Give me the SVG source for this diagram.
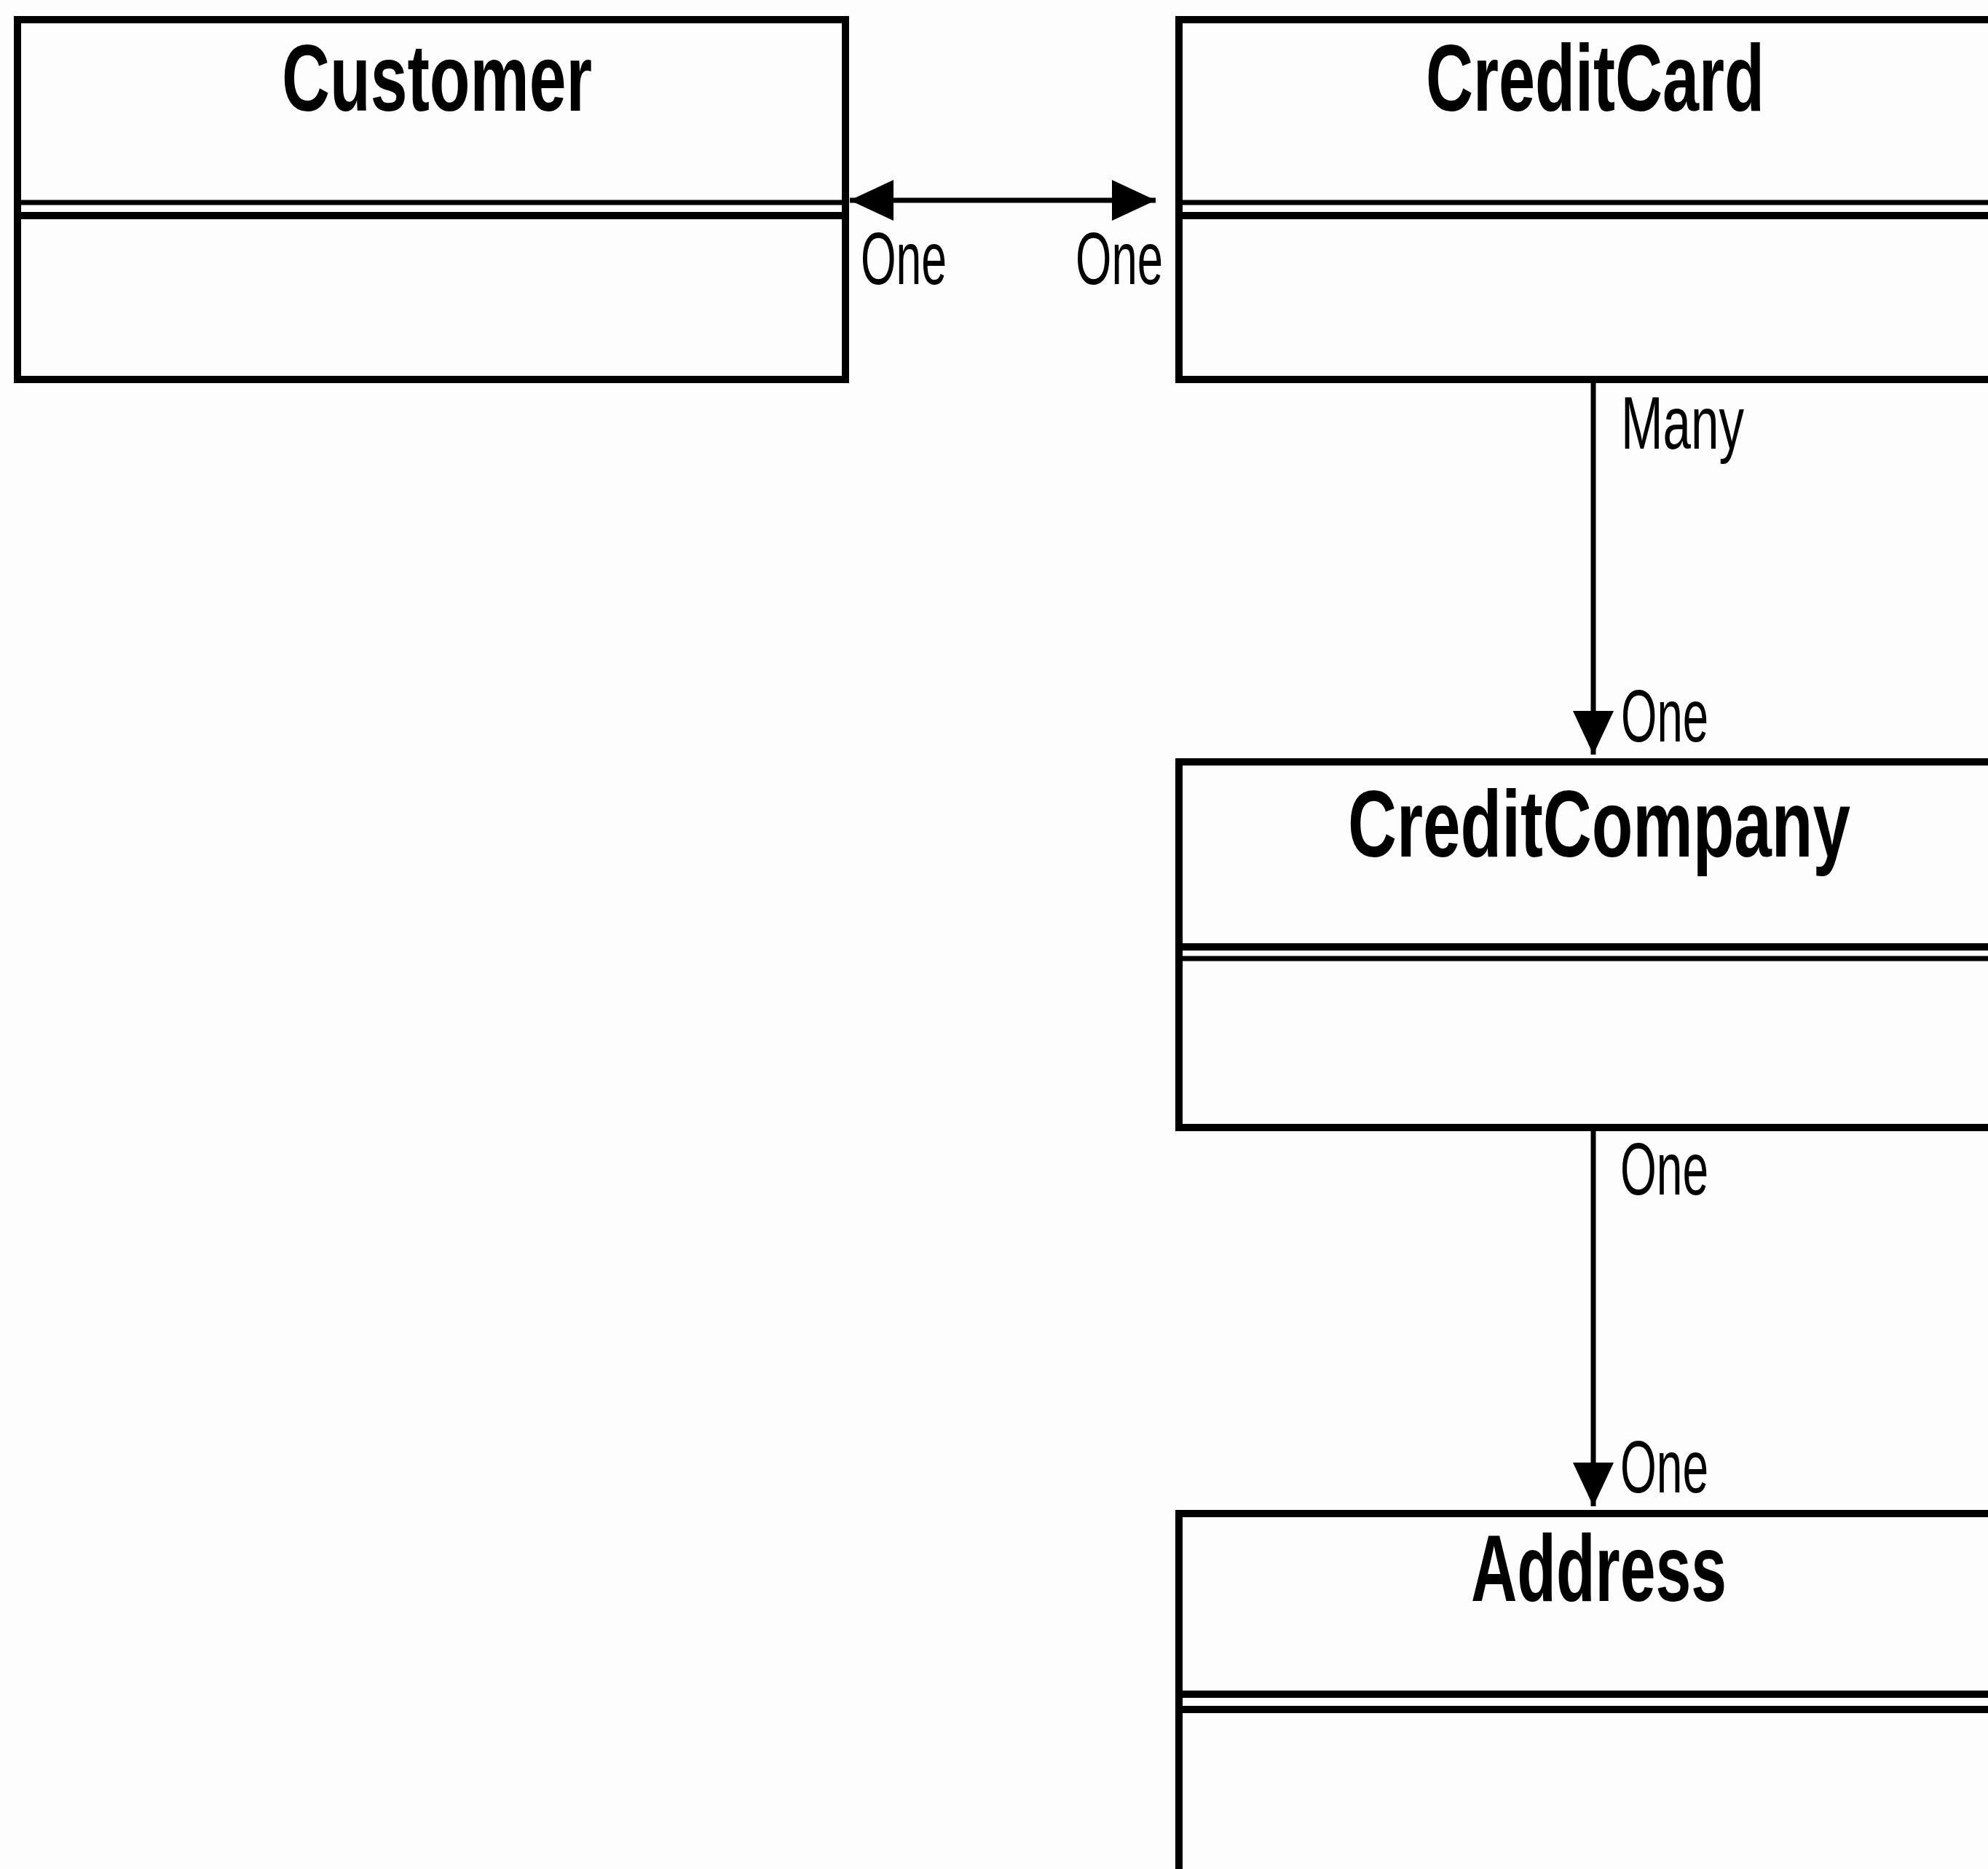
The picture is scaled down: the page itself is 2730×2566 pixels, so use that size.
<svg xmlns="http://www.w3.org/2000/svg" width="2730" height="2566" viewBox="0 0 2730 2566">
  <style>
    .box { fill: #fdfdfd; stroke: #000; stroke-width: 10; }
    .div-thin { stroke: #000; stroke-width: 7; }
    .div-thick { stroke: #000; stroke-width: 10; }
    .title { font-family: "Liberation Sans", Arial, sans-serif; font-weight: bold; font-size: 130px; fill: #000; }
    .label { font-family: "Liberation Sans", Arial, sans-serif; font-size: 102px; fill: #000; }
    .conn { stroke: #000; stroke-width: 7; fill: none; }
  </style>
  <defs>
    <marker id="arrow" markerUnits="userSpaceOnUse" markerWidth="62" markerHeight="56" refX="60" refY="28" orient="auto-start-reverse">
      <path d="M0,0 L60,28 L0,56 Z" fill="#000"/>
    </marker>
  </defs>

  <rect x="0" y="0" width="2730" height="2566" fill="#fdfdfd"/>

  <g id="customer">
    <rect class="box" x="24" y="27" width="1137" height="494"/>
    <line class="div-thin" x1="24" y1="278" x2="1161" y2="278"/>
    <line class="div-thick" x1="24" y1="296" x2="1161" y2="296"/>
    <text class="title" x="387" y="152" textLength="426" lengthAdjust="spacingAndGlyphs">Customer</text>
  </g>

  <g id="creditcard">
    <rect class="box" x="1619" y="27" width="1137" height="494"/>
    <line class="div-thin" x1="1619" y1="278" x2="2756" y2="278"/>
    <line class="div-thick" x1="1619" y1="296" x2="2756" y2="296"/>
    <text class="title" x="1958" y="152" textLength="465" lengthAdjust="spacingAndGlyphs">CreditCard</text>
  </g>

  <g id="creditcompany">
    <rect class="box" x="1619" y="1046" width="1137" height="502"/>
    <line class="div-thick" x1="1619" y1="1300" x2="2756" y2="1300"/>
    <line class="div-thin" x1="1619" y1="1316" x2="2756" y2="1316"/>
    <text class="title" x="1851" y="1176" textLength="690" lengthAdjust="spacingAndGlyphs">CreditCompany</text>
  </g>

  <g id="address">
    <rect class="box" x="1619" y="2078" width="1137" height="600"/>
    <line class="div-thick" x1="1619" y1="2326" x2="2756" y2="2326"/>
    <line class="div-thick" x1="1619" y1="2347" x2="2756" y2="2347"/>
    <text class="title" x="2020" y="2198" textLength="351" lengthAdjust="spacingAndGlyphs">Address</text>
  </g>

  <g id="connectors">
    <!-- Customer <-> CreditCard (one to one) -->
    <line class="conn" x1="1167" y1="275" x2="1587" y2="275" marker-start="url(#arrow)" marker-end="url(#arrow)"/>
    <text class="label" x="1182" y="390" textLength="118" lengthAdjust="spacingAndGlyphs">One</text>
    <text class="label" x="1477" y="390" textLength="120" lengthAdjust="spacingAndGlyphs">One</text>

    <!-- CreditCard -> CreditCompany (many to one) -->
    <line class="conn" x1="2188" y1="521" x2="2188" y2="1036" marker-end="url(#arrow)"/>
    <text class="label" x="2226" y="616" textLength="169" lengthAdjust="spacingAndGlyphs">Many</text>
    <text class="label" x="2226" y="1018" textLength="120" lengthAdjust="spacingAndGlyphs">One</text>

    <!-- CreditCompany -> Address (one to one) -->
    <line class="conn" x1="2188" y1="1548" x2="2188" y2="2068" marker-end="url(#arrow)"/>
    <text class="label" x="2225" y="1640" textLength="121" lengthAdjust="spacingAndGlyphs">One</text>
    <text class="label" x="2225" y="2049" textLength="121" lengthAdjust="spacingAndGlyphs">One</text>
  </g>
</svg>
